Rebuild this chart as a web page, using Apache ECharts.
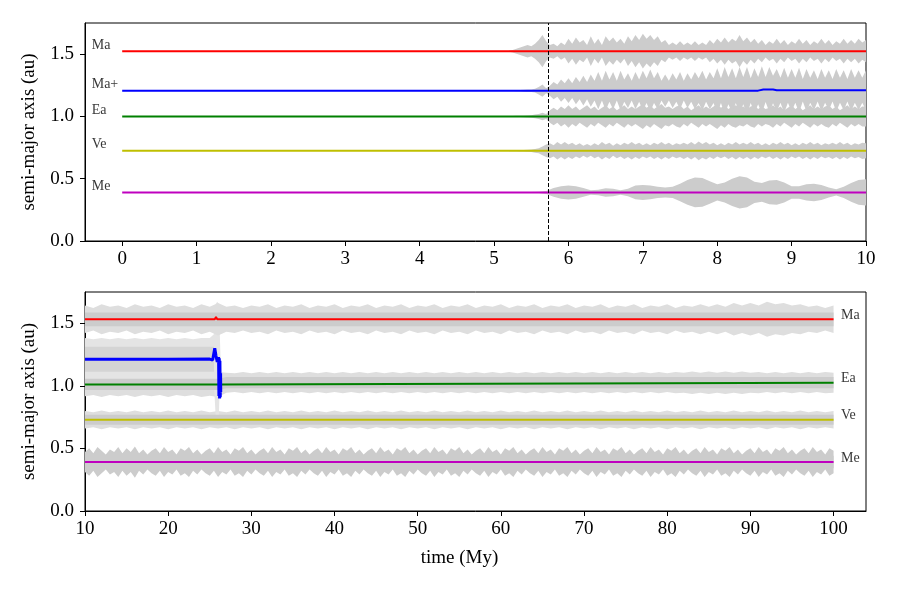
<!DOCTYPE html>
<html><head><meta charset="utf-8">
<script src="https://cdn.jsdelivr.net/npm/echarts@6/dist/echarts.min.js"></script>
<style>html,body{margin:0;padding:0;background:#fff}#c{width:900px;height:600px}</style>
</head><body><div id="c"></div>
<script>
// ---------- tick labels ----------
const topXTicks = [0,1,2,3,4,5,6,7,8,9,10];
const bottomXTicks = [10,20,30,40,50,60,70,80,90,100];
const yTicks = [0,0.5,1.0,1.5];
const dashedX = 5.73;

// ---------- top panel: semi-major axis lines ----------
const topMa = [[0,1.524],[10,1.524]];
const topMaPlus = [[0,1.207],[8.55,1.207],[8.62,1.216],[8.75,1.216],[8.8,1.21],[10,1.21]];
const topEa = [[0,1.0],[10,1.0]];
const topVe = [[0,0.724],[10,0.724]];
const topMe = [[0,0.39],[10,0.39]];

// ---------- top panel: half-width of perihelion/aphelion envelope ----------
const topBandStart = 5.2, topBandStep = 0.05;
const topMaW = [0.005,0.01,0.02,0.03,0.04,0.05,0.04,0.06,0.09,0.13,
  0.08,0.05,0.06,0.04,0.07,0.05,0.10,0.06,0.11,0.07,
  0.09,0.05,0.12,0.06,0.10,0.05,0.12,0.08,0.11,0.07,
  0.10,0.06,0.12,0.08,0.13,0.09,0.14,0.10,0.13,0.09,
  0.12,0.07,0.09,0.05,0.07,0.05,0.08,0.05,0.07,0.05,
  0.08,0.05,0.07,0.05,0.09,0.06,0.10,0.07,0.11,0.07,
  0.10,0.08,0.13,0.08,0.11,0.07,0.10,0.06,0.09,0.05,
  0.08,0.06,0.10,0.06,0.09,0.05,0.08,0.06,0.10,0.06,
  0.09,0.05,0.08,0.06,0.10,0.06,0.09,0.05,0.08,0.06,
  0.10,0.06,0.09,0.06,0.10,0.07,0.09];
const topMaPlusW = [0.003,0.003,0.005,0.005,0.008,0.01,0.01,0.015,0.03,0.05,
  0.02,0.04,0.07,0.05,0.09,0.06,0.10,0.06,0.11,0.07,
  0.12,0.07,0.13,0.08,0.15,0.08,0.16,0.09,0.15,0.08,
  0.16,0.09,0.14,0.08,0.15,0.09,0.16,0.10,0.17,0.10,
  0.15,0.08,0.13,0.08,0.14,0.09,0.15,0.08,0.14,0.09,
  0.15,0.10,0.16,0.09,0.15,0.10,0.18,0.10,0.19,0.11,
  0.18,0.10,0.19,0.11,0.19,0.10,0.18,0.11,0.19,0.10,
  0.18,0.11,0.17,0.10,0.18,0.10,0.17,0.10,0.18,0.09,
  0.17,0.10,0.16,0.09,0.17,0.10,0.16,0.09,0.17,0.10,
  0.16,0.09,0.17,0.10,0.16,0.10,0.16];
const topEaW = [0.004,0.004,0.005,0.005,0.006,0.008,0.01,0.015,0.02,0.03,
  0.02,0.05,0.07,0.05,0.08,0.06,0.09,0.06,0.08,0.05,
  0.07,0.09,0.06,0.08,0.05,0.07,0.09,0.06,0.08,0.05,
  0.07,0.09,0.06,0.08,0.06,0.08,0.10,0.07,0.09,0.06,
  0.08,0.10,0.07,0.08,0.06,0.08,0.09,0.06,0.08,0.05,
  0.07,0.09,0.06,0.08,0.06,0.08,0.10,0.07,0.09,0.06,
  0.08,0.09,0.07,0.08,0.06,0.08,0.09,0.06,0.08,0.06,
  0.07,0.09,0.06,0.08,0.05,0.07,0.09,0.06,0.08,0.05,
  0.07,0.09,0.06,0.08,0.06,0.08,0.09,0.06,0.08,0.05,
  0.07,0.09,0.06,0.08,0.06,0.08,0.08];
const topVeW = [0.003,0.003,0.004,0.005,0.006,0.008,0.01,0.015,0.02,0.035,
  0.05,0.06,0.045,0.07,0.05,0.07,0.05,0.065,0.045,0.06,
  0.04,0.055,0.04,0.06,0.045,0.07,0.05,0.065,0.04,0.06,
  0.045,0.065,0.05,0.07,0.05,0.065,0.045,0.06,0.045,0.065,
  0.05,0.07,0.05,0.065,0.045,0.06,0.05,0.065,0.05,0.07,
  0.05,0.075,0.055,0.07,0.05,0.065,0.045,0.06,0.045,0.065,
  0.05,0.07,0.05,0.065,0.05,0.07,0.05,0.065,0.045,0.06,
  0.045,0.065,0.05,0.07,0.05,0.065,0.045,0.06,0.045,0.065,
  0.05,0.07,0.05,0.065,0.045,0.06,0.05,0.065,0.05,0.07,
  0.05,0.065,0.045,0.06,0.05,0.065,0.06];
const topMeBandStep = 0.1;
const topMeW = [0.002,0.002,0.002,0.003,0.005,0.012,0.035,0.05,0.056,0.05,
  0.035,0.018,0.022,0.034,0.03,0.018,0.03,0.055,0.06,0.055,
  0.045,0.04,0.045,0.07,0.10,0.12,0.115,0.09,0.065,0.08,
  0.11,0.13,0.12,0.085,0.075,0.095,0.10,0.08,0.05,0.05,
  0.065,0.07,0.06,0.04,0.025,0.045,0.075,0.10,0.105];

// ---------- bottom panel: semi-major axis lines ----------
const botMa = [[10,1.532],[25.6,1.532],[25.75,1.55],[25.9,1.532],[100,1.532]];
const botMaPlus = [[10,1.212],[20,1.212],[25,1.214],[25.35,1.206],[25.45,1.198],[25.6,1.30],
  [25.75,1.24],[25.9,1.19],[26.0,1.20],[26.06,1.23],[26.1,0.92],[26.14,1.22],[26.18,0.90],
  [26.22,1.2],[26.26,0.91],[26.3,1.1],[26.32,0.95]];
const botEa = [[10,1.011],[26.15,1.011],[26.2,1.025],[100,1.025]];
const botVe = [[10,0.729],[100,0.729]];
const botMe = [[10,0.391],[100,0.391]];

// ---------- bottom panel: envelope half-widths ----------
const botStep = 1, botStart = 10;
const botMaW = [0.11,0.09,0.12,0.10,0.11,0.09,0.12,0.10,0.11,0.09,
  0.12,0.10,0.11,0.09,0.12,0.10,0.13,0.10,0.11,0.09,
  0.11,0.10,0.12,0.09,0.11,0.10,0.12,0.09,0.11,0.10,
  0.12,0.09,0.11,0.10,0.12,0.09,0.11,0.10,0.12,0.09,
  0.11,0.10,0.12,0.09,0.11,0.10,0.12,0.09,0.11,0.10,
  0.12,0.09,0.11,0.10,0.12,0.09,0.11,0.10,0.12,0.09,
  0.11,0.10,0.12,0.09,0.11,0.10,0.12,0.09,0.11,0.10,
  0.12,0.09,0.11,0.10,0.12,0.10,0.12,0.10,0.13,0.11,
  0.13,0.11,0.14,0.12,0.13,0.11,0.12,0.10,0.11,0.09,0.11];
const botEaW = [0.095,0.085,0.10,0.085,0.095,0.085,0.10,0.085,0.095,0.085,
  0.10,0.085,0.095,0.085,0.10,0.09,0.10,0.08,0.075,0.085,
  0.075,0.085,0.075,0.085,0.075,0.085,0.075,0.085,0.075,0.085,
  0.075,0.085,0.075,0.085,0.075,0.085,0.075,0.085,0.075,0.085,
  0.075,0.085,0.075,0.085,0.075,0.085,0.075,0.085,0.075,0.085,
  0.075,0.085,0.075,0.085,0.075,0.085,0.075,0.085,0.075,0.085,
  0.075,0.085,0.075,0.085,0.075,0.085,0.075,0.085,0.075,0.085,
  0.075,0.085,0.08,0.09,0.08,0.09,0.08,0.09,0.08,0.09,
  0.08,0.085,0.075,0.085,0.075,0.085,0.075,0.085,0.075,0.085,0.08];
const botVeW = [0.07,0.06,0.075,0.06,0.07,0.06,0.075,0.06,0.07,0.06,
  0.075,0.06,0.07,0.06,0.075,0.06,0.07,0.06,0.075,0.06,
  0.07,0.06,0.075,0.06,0.07,0.06,0.075,0.06,0.07,0.06,
  0.075,0.06,0.07,0.06,0.075,0.06,0.07,0.06,0.075,0.06,
  0.07,0.06,0.075,0.06,0.07,0.06,0.075,0.06,0.07,0.06,
  0.075,0.06,0.07,0.06,0.075,0.06,0.07,0.06,0.075,0.06,
  0.07,0.06,0.075,0.06,0.07,0.06,0.075,0.06,0.07,0.06,
  0.075,0.06,0.07,0.06,0.075,0.06,0.07,0.06,0.075,0.06,
  0.07,0.06,0.075,0.06,0.07,0.06,0.075,0.06,0.07,0.06,0.07];
const botMeStep = 0.5;
const botMeW = [0.08,0.11,0.07,0.12,0.09,0.06,0.10,0.08,0.12,0.07,
  0.11,0.08,0.125,0.07,0.10,0.06,0.09,0.11,0.07,0.12,
  0.08,0.10,0.06,0.11,0.09,0.12,0.07,0.10,0.06,0.09,
  0.11,0.07,0.12,0.08,0.10,0.06,0.11,0.09,0.12,0.07,
  0.10,0.06,0.09,0.11,0.07,0.12,0.08,0.10,0.06,0.11,
  0.09,0.12,0.07,0.10,0.06,0.09,0.11,0.07,0.12,0.08,
  0.10,0.06,0.11,0.09,0.12,0.07,0.10,0.06,0.09,0.11,
  0.07,0.12,0.08,0.10,0.06,0.11,0.09,0.12,0.07,0.10,
  0.06,0.09,0.11,0.07,0.12,0.08,0.10,0.06,0.11,0.09,
  0.12,0.07,0.10,0.06,0.09,0.11,0.07,0.12,0.08,0.10,
  0.06,0.11,0.09,0.12,0.07,0.10,0.06,0.09,0.11,0.07,
  0.12,0.08,0.10,0.06,0.11,0.09,0.12,0.07,0.10,0.06,
  0.09,0.11,0.07,0.12,0.08,0.10,0.06,0.11,0.09,0.12,
  0.07,0.10,0.06,0.09,0.11,0.07,0.12,0.08,0.10,0.06,
  0.11,0.09,0.12,0.07,0.10,0.06,0.09,0.11,0.07,0.12,
  0.08,0.10,0.06,0.11,0.09,0.12,0.07,0.10,0.06,0.09,
  0.11,0.07,0.12,0.08,0.10,0.06,0.11,0.09,0.12,0.07,
  0.10,0.06,0.09,0.11,0.07,0.12,0.08,0.10,0.06,0.11,0.09];
const botMaPlusBandX = [10,11,12,13,14,15,16,17,18,19,20,21,22,23,24,25,25.5,25.7,25.9,26.1,26.3];
const botMaPlusW = [0.17,0.16,0.17,0.16,0.17,0.16,0.17,0.16,0.17,0.16,0.17,0.16,0.17,0.16,0.17,0.17,0.2,0.44,0.46,0.44,0.0];
// inner solid core half-widths
const botCoreMa = 0.055, botCoreEa = 0.045, botCoreVe = 0.04, botCoreMe = 0.05, botCoreMaPlus = 0.1;

// ---------- helpers ----------
const FONT = "'Liberation Serif', 'DejaVu Serif', serif";
function grid(xs, start, step) { return xs.map((_, i) => +(start + i * step).toFixed(3)); }
function centerAt(line, x) {
  let c = line[0][1];
  for (let i = 0; i < line.length - 1; i++) {
    const a = line[i], b = line[i + 1];
    if (x >= a[0] && x <= b[0]) { c = a[1] + (b[1] - a[1]) * (x - a[0]) / (b[0] - a[0] || 1); break; }
    if (x > b[0]) c = b[1];
  }
  return c;
}
function makeBand(xs, line, widths, cap) {
  return xs.map((x, i) => {
    const c = centerAt(line, x);
    const w = cap === undefined ? widths[i] : Math.min(cap, widths[i]);
    return [x, c - w, c + w];
  });
}
function bandSeries(gi, pts, color, z) {
  return {
    type: 'custom', xAxisIndex: gi, yAxisIndex: gi, z: z, silent: true, clip: true,
    progressive: 0, data: pts, encode: { x: 0, y: [1, 2] },
    renderItem: function (params, api) {
      if (params.dataIndex !== 0) return null;
      const up = [], dn = [];
      pts.forEach(p => { up.push(api.coord([p[0], p[2]])); dn.push(api.coord([p[0], p[1]])); });
      return { type: 'polygon', shape: { points: up.concat(dn.reverse()) }, style: { fill: color } };
    }
  };
}
function lineSeries(gi, name, data, color, width, extra) {
  return Object.assign({
    type: 'line', name: name, xAxisIndex: gi, yAxisIndex: gi, data: data, z: 3,
    showSymbol: false, symbol: 'none', silent: true, sampling: null,
    lineStyle: { color: color, width: width }, itemStyle: { color: color }
  }, extra || {});
}

const C = { Ma: '#ff0000', MaP: '#0000ff', Ea: '#008000', Ve: '#bfbf00', Me: '#bf00bf' };
const GRAY = '#cccccc', LIGHT = '#dedede';

const topX = grid(topMaW, topBandStart, topBandStep);
const topMeX = grid(topMeW, topBandStart, topMeBandStep);
const botX = grid(botMaW, botStart, botStep);
const botMeX = grid(botMeW, botStart, botMeStep);
const botMaPlusCenter = [botMaPlus[0], [botMaPlusBandX[botMaPlusBandX.length - 1], botMaPlus[0][1]]];

const series = [
  // top bands
  bandSeries(0, makeBand(topMeX, topMe, topMeW), GRAY, 1),
  bandSeries(0, makeBand(topX, topVe, topVeW), GRAY, 1),
  bandSeries(0, makeBand(topX, topEa, topEaW), GRAY, 1),
  bandSeries(0, makeBand(topX, topMaPlus, topMaPlusW), GRAY, 1),
  bandSeries(0, makeBand(topX, topMa, topMaW), GRAY, 1),
  // bottom bands outer
  bandSeries(1, makeBand(botMeX, botMe, botMeW), GRAY, 1),
  bandSeries(1, makeBand(botX, botVe, botVeW), LIGHT, 1),
  bandSeries(1, makeBand(botX, botEa, botEaW), LIGHT, 1),
  bandSeries(1, makeBand(botMaPlusBandX, botMaPlusCenter, botMaPlusW), '#e4e4e4', 1),
  bandSeries(1, makeBand(botX, botMa, botMaW), LIGHT, 1),
  // bottom bands core
  bandSeries(1, makeBand(botMeX, botMe, botMeW, botCoreMe), GRAY, 2),
  bandSeries(1, makeBand(botX, botVe, botVeW, botCoreVe), GRAY, 2),
  bandSeries(1, makeBand(botX, botEa, botEaW, botCoreEa), GRAY, 2),
  bandSeries(1, makeBand(botMaPlusBandX.slice(0, 17), botMaPlusCenter, botMaPlusW.slice(0, 17), botCoreMaPlus), '#d4d4d4', 2),
  bandSeries(1, makeBand(botX, botMa, botMaW, botCoreMa), GRAY, 2),
  // top lines
  lineSeries(0, 'Ma', topMa, C.Ma, 2, {
    markLine: { symbol: 'none', silent: true, animation: false, label: { show: false },
      lineStyle: { type: [4, 2], color: '#000', width: 1 }, data: [{ xAxis: dashedX }] }
  }),
  lineSeries(0, 'Ma+', topMaPlus, C.MaP, 2),
  lineSeries(0, 'Ea', topEa, C.Ea, 2),
  lineSeries(0, 'Ve', topVe, C.Ve, 2),
  lineSeries(0, 'Me', topMe, C.Me, 2),
  // bottom lines
  lineSeries(1, 'Ma', botMa, C.Ma, 2),
  lineSeries(1, 'Ea', botEa, C.Ea, 2),
  lineSeries(1, 'Ve', botVe, C.Ve, 2),
  lineSeries(1, 'Me', botMe, C.Me, 2),
  lineSeries(1, 'Ma+', botMaPlus, C.MaP, 3),
  // labels
  {
    type: 'scatter', xAxisIndex: 0, yAxisIndex: 0, z: 5, silent: true, symbolSize: 1,
    itemStyle: { color: 'rgba(0,0,0,0)' },
    label: { show: true, formatter: '{b}', position: 'left', distance: 30, align: 'left',
      offset: [0, -6], color: '#000', fontFamily: FONT, fontSize: 14 },
    data: [['Ma', topMa], ['Ma+', topMaPlus], ['Ea', topEa], ['Ve', topVe], ['Me', topMe]]
      .map(d => ({ name: d[0], value: d[1][0] }))
  },
  {
    type: 'scatter', xAxisIndex: 1, yAxisIndex: 1, z: 5, silent: true, symbolSize: 1,
    itemStyle: { color: 'rgba(0,0,0,0)' },
    label: { show: true, formatter: '{b}', position: 'right', distance: 7,
      offset: [0, -4], color: '#000', fontFamily: FONT, fontSize: 14 },
    data: [['Ma', botMa], ['Ea', botEa], ['Ve', botVe], ['Me', botMe]]
      .map(d => ({ name: d[0], value: d[1][d[1].length - 1] }))
  }
];

function xAxis(gi, min, max, ticks, name) {
  return {
    gridIndex: gi, type: 'value', min: min, max: max,
    name: name || '', nameLocation: 'middle', nameGap: 38,
    nameTextStyle: { color: '#000', fontFamily: FONT, fontSize: 19, padding: [0, 32, 0, 0] },
    axisLine: { show: true, onZero: false, lineStyle: { color: '#000', width: 1 } },
    axisTick: { show: true, customValues: ticks, length: 5, lineStyle: { color: '#000' } },
    axisLabel: { customValues: ticks, color: '#000', fontFamily: FONT, fontSize: 19, margin: 9 },
    splitLine: { show: false }
  };
}
function yAxis(gi) {
  return {
    gridIndex: gi, type: 'value', min: 0, max: 1.75,
    name: 'semi-major axis (au)', nameLocation: 'middle', nameGap: 46, nameRotate: 90,
    nameTextStyle: { color: '#000', fontFamily: FONT, fontSize: 19 },
    axisLine: { show: true, onZero: false, lineStyle: { color: '#000', width: 1 } },
    axisTick: { show: true, customValues: yTicks, length: 5, lineStyle: { color: '#000' } },
    axisLabel: { customValues: yTicks, color: '#000', fontFamily: FONT, fontSize: 19, margin: 11,
      formatter: v => v.toFixed(1) },
    splitLine: { show: false }
  };
}

const chart = echarts.init(document.getElementById('c'), null, { renderer: 'canvas' });
chart.setOption({
  animation: false,
  backgroundColor: '#fff',
  grid: [
    { left: 85, right: 34, top: 23, height: 218, show: true, borderColor: '#000', borderWidth: 1, containLabel: false },
    { left: 85, right: 34, top: 292, height: 219, show: true, borderColor: '#000', borderWidth: 1, containLabel: false }
  ],
  xAxis: [xAxis(0, -0.5, 10, topXTicks), xAxis(1, 10, 103.9, bottomXTicks, 'time (My)')],
  yAxis: [yAxis(0), yAxis(1)],
  series: series
});
</script>
</body></html>
